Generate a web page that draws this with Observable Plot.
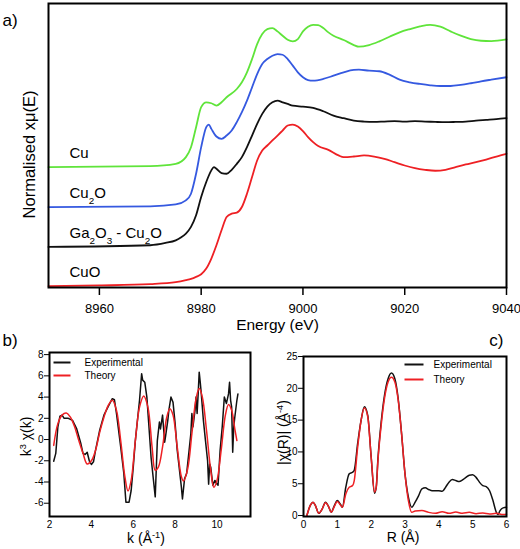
<!DOCTYPE html>
<html>
<head>
<meta charset="utf-8">
<script src="https://cdn.jsdelivr.net/npm/d3@7"></script>
<script src="https://cdn.jsdelivr.net/npm/@observablehq/plot@0.6"></script>
<style>
  html, body { margin: 0; padding: 0; background: #fff; }
  #root { position: relative; width: 520px; height: 549px; background: #fff; overflow: hidden; }
  #root svg { position: absolute; }
</style>
</head>
<body>
<div id="root"></div>
<script>
// ---------------- Panel a: XANES spectra (offset-stacked) ----------------
const cuE  = [8950,8970,8975,8977,8978,8979,8980,8981,8982,8983,8984,8985,8987,8988,8989,8990,8991,8992,8993,8994,8995,8996,8997,8998,8999,9000,9001,9002,9003,9004,9005,9006,9008,9010,9011,9013,9015,9017,9019,9021,9023,9025,9027,9029,9031,9033,9035,9037,9040];
const cuY  = [1.006,1.014,1.033,1.089,1.172,1.339,1.506,1.547,1.539,1.519,1.547,1.589,1.658,1.714,1.797,1.908,2.033,2.117,2.158,2.167,2.139,2.103,2.069,2.056,2.075,2.139,2.178,2.194,2.192,2.167,2.131,2.103,2.067,2.025,2.011,2.025,2.056,2.094,2.131,2.158,2.181,2.194,2.178,2.139,2.103,2.075,2.061,2.058,2.072];

const cu2oE = [8950,8970,8975,8977,8978,8979,8980,8981,8981.5,8982,8983,8984,8985,8986,8987,8988,8989,8990,8991,8992,8993,8994,8995,8996,8997,8998,8999,9000,9001,9002,9004,9006,9008,9010,9011,9013,9015,9017,9019,9021,9023,9025,9027,9029,9031,9033,9035,9037,9040];
const cu2oY = [0.672,0.678,0.694,0.728,0.783,0.950,1.172,1.339,1.361,1.325,1.261,1.242,1.269,1.311,1.381,1.464,1.561,1.672,1.783,1.867,1.908,1.936,1.950,1.944,1.908,1.853,1.797,1.756,1.733,1.728,1.742,1.769,1.797,1.817,1.819,1.811,1.806,1.778,1.736,1.714,1.700,1.689,1.683,1.683,1.692,1.706,1.722,1.736,1.756];

const gaE = [8950,8970,8973,8975,8976,8977,8978,8979,8980,8981,8982,8982.5,8983,8984,8985,8986,8987,8988,8989,8990,8991,8992,8993,8994,8995,8996,8997,8998,9000,9002,9004,9006,9008,9010,9012,9014,9016,9018,9020,9022,9024,9026,9028,9030,9032,9034,9036,9038,9040];
const gaY = [0.339,0.353,0.372,0.394,0.417,0.450,0.506,0.603,0.756,0.881,0.978,1.006,0.992,0.956,0.950,0.983,1.033,1.089,1.172,1.269,1.367,1.450,1.511,1.547,1.561,1.547,1.533,1.519,1.511,1.500,1.472,1.436,1.414,1.394,1.386,1.383,1.386,1.389,1.386,1.389,1.386,1.383,1.381,1.383,1.386,1.394,1.400,1.406,1.414];

const cuoE = [8950,8960,8970,8975,8977,8978,8979,8980,8981,8982,8983,8984,8985,8986,8987,8988,8989,8990,8991,8992,8993,8994,8995,8996,8997,8998,8999,9000,9001,9002,9003,9005,9007,9008,9010,9012,9014,9016,9018,9020,9022,9024,9026,9028,9030,9032,9034,9036,9038,9040];
const cuoY = [0.011,0.017,0.028,0.044,0.061,0.072,0.089,0.111,0.158,0.242,0.353,0.478,0.589,0.617,0.625,0.672,0.783,0.922,1.061,1.144,1.186,1.228,1.269,1.311,1.353,1.361,1.344,1.306,1.256,1.214,1.181,1.150,1.103,1.089,1.094,1.103,1.094,1.075,1.047,1.019,0.997,0.983,0.975,0.983,1.006,1.028,1.047,1.069,1.094,1.117];

const seriesNames = ["Cu", "Cu_{2}O", "Ga_{2}O_{3} - Cu_{2}O", "CuO"];
const energyTicks = [8960, 8980, 9000, 9020, 9040];

// ---------------- Panel b: k^3-weighted EXAFS ----------------
const kExp   = [2.2,2.3,2.4,2.5,2.6,2.7,2.9,3.1,3.3,3.5,3.6,3.7,3.8,3.9,4.0,4.1,4.2,4.4,4.6,4.8,5.0,5.1,5.2,5.4,5.55,5.65,5.8,5.9,6.0,6.1,6.2,6.3,6.4,6.45,6.55,6.65,6.75,6.85,6.95,7.05,7.15,7.25,7.3,7.4,7.5,7.55,7.65,7.7,7.8,7.9,8.0,8.1,8.2,8.3,8.35,8.45,8.55,8.65,8.75,8.8,8.85,8.95,9.0,9.05,9.1,9.15,9.2,9.25,9.35,9.45,9.55,9.6,9.65,9.7,9.8,9.9,10.0,10.05,10.15,10.25,10.35,10.45,10.55,10.6,10.65,10.7,10.75,10.8,10.85,10.95,11.0];
const chiExp = [-2.05,-1.3,1.2,2.2,2.3,2.0,2.0,1.8,1.0,-0.4,-1.3,-1.4,-1.2,-2.0,-2.35,-2.1,-1.0,0.9,2.3,3.1,3.85,3.75,2.45,-0.7,-3.2,-5.9,-5.9,-4.8,-2.6,-0.1,1.8,3.7,6.2,5.6,5.4,4.0,1.2,-1.65,-3.55,-5.4,-0.1,1.65,1.0,2.3,-0.25,0.4,1.8,2.75,4.0,3.5,1.5,-1.0,-2.75,-4.5,-5.6,-3.7,-3.2,-1.35,0.55,2.45,1.2,2.75,4.0,2.45,4.3,6.35,5.4,4.3,1.8,-0.1,-2.0,-4.2,-2.3,-2.6,-4.3,-3.85,-4.2,-4.3,-1.0,1.2,4.0,3.4,4.3,5.4,3.7,3.05,-1.2,1.2,2.1,3.7,4.3];
const kTh    = [2.2,2.4,2.6,2.8,3.0,3.2,3.4,3.6,3.8,4.0,4.2,4.4,4.6,4.8,5.0,5.2,5.4,5.6,5.75,5.9,6.1,6.3,6.5,6.7,6.9,7.05,7.2,7.4,7.6,7.75,7.9,8.1,8.3,8.4,8.6,8.8,9.0,9.15,9.3,9.5,9.7,9.85,10.0,10.2,10.4,10.55,10.7,10.85,10.95];
const chiTh  = [-0.55,1.5,2.3,2.5,2.1,1.2,-0.1,-1.3,-2.3,-2.0,-1.0,0.7,2.1,3.2,3.7,2.75,-0.1,-3.5,-4.85,-3.85,-0.1,3.05,4.1,3.05,-0.7,-2.9,-2.6,-0.7,2.1,2.9,2.3,-0.7,-3.5,-3.9,-2.75,0.55,3.85,4.8,4.0,0.85,-2.9,-4.5,-3.85,-1.0,2.3,3.3,2.75,1.0,-0.1];
const kTicks   = [2, 4, 6, 8, 10];
const chiTicks = [-6, -4, -2, 0, 2, 4, 6, 8];

// ---------------- Panel c: Fourier transform magnitude ----------------
const rExp  = [0.1,0.2,0.28,0.35,0.45,0.55,0.65,0.75,0.82,0.9,1.0,1.1,1.15,1.25,1.35,1.45,1.5,1.6,1.7,1.8,1.9,2.0,2.1,2.15,2.2,2.3,2.4,2.5,2.6,2.7,2.8,2.9,3.0,3.1,3.2,3.3,3.4,3.5,3.6,3.7,3.8,4.0,4.1,4.2,4.3,4.4,4.5,4.6,4.7,4.8,4.9,5.0,5.1,5.2,5.3,5.4,5.5,5.6,5.7,5.75,5.8,5.9,6.0];
const ftExp = [0,1.6,2.1,1.6,0.35,1.0,2.1,1.3,0.5,1.4,2.35,1.7,1.3,4.45,6.55,6.8,7.1,11.3,14.9,17.1,15.7,9.2,3.5,4.45,8.9,14.9,19.1,21.5,22.4,21.5,18.3,12.8,6.55,2.9,1.3,2.1,3.1,4.2,4.35,4.1,3.9,3.9,3.8,4.45,5.25,5.65,5.5,5.35,5.6,6.0,6.35,6.4,6.0,5.25,4.7,4.55,3.9,2.35,0.5,0.15,0.7,1.2,1.3];
const rTh   = [0.1,0.2,0.28,0.35,0.45,0.55,0.65,0.75,0.82,0.9,1.0,1.1,1.15,1.25,1.35,1.45,1.5,1.6,1.7,1.8,1.9,2.0,2.1,2.15,2.2,2.3,2.4,2.5,2.6,2.7,2.8,2.9,3.0,3.1,3.2,3.3,3.5,3.7,3.9,4.1,4.3,4.5,4.7,4.9,5.1,5.3,5.5,5.7,5.9,6.0];
const ftTh  = [0,1.6,2.1,1.6,0.35,1.0,2.0,1.3,0.5,1.3,2.2,1.6,1.3,3.4,4.45,4.7,5.5,10.7,14.9,16.9,15.5,9.2,3.7,4.45,8.6,14.4,18.6,21.0,21.75,21.0,18.1,12.8,6.55,2.35,0.5,0.7,0.8,0.5,0.35,0.6,0.35,0.55,0.35,0.5,0.3,0.4,0.25,0.35,0.15,0.2];
const rTicks  = [0, 1, 2, 3, 4, 5, 6];
const ftTicks = [0, 5, 10, 15, 20, 25];

const legendLabels = ["Experimental", "Theory"];

// ---------------- styles ----------------
const FONT = "'Liberation Sans', Arial, Helvetica, sans-serif";
const seriesColors = ["#5fe43a", "#3559e0", "#111111", "#ee2024"];
const legendColors = ["#111111", "#ee2024"];
const fmt = d => String(d);

const rows = (xs, ys, extra) => xs.map((x, i) => ({x, y: ys[i], ...extra}));
const spectra = [[cuE, cuY], [cu2oE, cu2oY], [gaE, gaY], [cuoE, cuoY]]
  .map(([xs, ys], i) => rows(xs, ys, {name: seriesNames[i], color: seriesColors[i]}));

// horizontal line symbol for legends
const dash = half => ({draw(ctx) { ctx.moveTo(-half, 0); ctx.lineTo(half, 0); }});

function richText(svg) {
  svg.querySelectorAll("text").forEach(t => {
    const s = t.textContent;
    if (!/[_^]\{/.test(s)) return;
    while (t.firstChild) t.removeChild(t.firstChild);
    const re = /([_^])\{([^}]*)\}|([^_^]+)/g;
    let m;
    while ((m = re.exec(s))) {
      const ts = document.createElementNS("http://www.w3.org/2000/svg", "tspan");
      if (m[3] !== undefined) {
        ts.textContent = m[3];
      } else {
        ts.textContent = m[2];
        ts.setAttribute("font-size", "66%");
        ts.setAttribute("baseline-shift", m[1] === "_" ? "sub" : "super");
      }
      t.appendChild(ts);
    }
  });
}

const root = document.getElementById("root");
function place(svg, left, top) {
  svg.style.left = left + "px";
  svg.style.top = top + "px";
  richText(svg);
  root.appendChild(svg);
}

const centered = {textAnchor: "middle", lineAnchor: "middle"};

// ---------------- Panel a ----------------
const plotA = Plot.plot({
  width: 520, height: 340,
  marginLeft: 48, marginRight: 14, marginTop: 3, marginBottom: 53,
  style: {fontFamily: FONT, color: "#000", background: "transparent", overflow: "visible"},
  x: {domain: [8950, 9040]},
  y: {domain: [0, 2.372], axis: null},
  marks: [
    ...spectra.map(s => Plot.line(s, {x: "x", y: "y", stroke: s[0].color, strokeWidth: 1.8, curve: "monotone-x"})),
    Plot.text(spectra.map(s => s[0]), {x: "x", y: "y", text: "name", dx: 21, dy: -14, textAnchor: "start", lineAnchor: "middle", fontSize: 15, fill: "#000"}),
    Plot.axisX({ticks: energyTicks, tickFormat: fmt, tickSize: 8, tickPadding: 8, fontSize: 13, strokeWidth: 1.5, label: null}),
    Plot.frame({stroke: "#000", strokeWidth: 2}),
    Plot.text(["Energy (eV)"], {frameAnchor: "bottom", dy: 38, fontSize: 15.5, ...centered}),
    Plot.text(["Normalised xμ(E)"], {frameAnchor: "left", rotate: -90, dx: -19, dy: 9, fontSize: 16.5, ...centered}),
    Plot.text(["a)"], {frameAnchor: "top-left", dx: -46, dy: 17, textAnchor: "start", lineAnchor: "middle", fontSize: 17})
  ]
});
place(plotA, 0, 0);

// ---------------- Panel b ----------------
const plotB = Plot.plot({
  width: 260, height: 219,
  marginLeft: 49, marginRight: 10, marginTop: 22, marginBottom: 33,
  style: {fontFamily: FONT, color: "#000", background: "transparent", overflow: "visible"},
  x: {domain: [2, 11.6]},
  y: {domain: [-7.25, 8.2]},
  marks: [
    Plot.line(rows(kExp, chiExp), {x: "x", y: "y", stroke: legendColors[0], strokeWidth: 1.5}),
    Plot.line(rows(kTh, chiTh), {x: "x", y: "y", stroke: legendColors[1], strokeWidth: 1.5, curve: "catmull-rom"}),
    Plot.axisY({ticks: chiTicks, tickFormat: fmt, tickSize: 5, tickPadding: 1, fontSize: 10, label: null}),
    Plot.axisX({ticks: kTicks, tickFormat: fmt, tickSize: 0, tickPadding: 4, fontSize: 10, label: null}),
    Plot.frame({stroke: "#000", strokeWidth: 2}),
    ...legendLabels.map((lab, i) => Plot.dot([lab], {frameAnchor: "top-left", dx: 12.5, dy: 10 + 13 * i, symbol: dash(8.5), fill: "none", stroke: legendColors[i], strokeWidth: 2})),
    ...legendLabels.map((lab, i) => Plot.text([lab], {frameAnchor: "top-left", dx: 35, dy: 10 + 13 * i, textAnchor: "start", lineAnchor: "middle", fontSize: 10})),
    Plot.text(["k (Å^{-1})"], {frameAnchor: "bottom", dx: -4, dy: 22, fontSize: 14, ...centered}),
    Plot.text(["k^{3} χ(k)"], {frameAnchor: "left", rotate: -90, dx: -23, dy: 2, fontSize: 14, ...centered}),
    Plot.text(["b)"], {frameAnchor: "top-left", dx: -47, dy: -12, textAnchor: "start", lineAnchor: "middle", fontSize: 17})
  ]
});
place(plotB, 0, 330);

// ---------------- Panel c ----------------
const plotC = Plot.plot({
  width: 260, height: 219,
  marginLeft: 43, marginRight: 14, marginTop: 26, marginBottom: 33,
  style: {fontFamily: FONT, color: "#000", background: "transparent", overflow: "visible"},
  x: {domain: [0, 6]},
  y: {domain: [-0.15, 25]},
  marks: [
    Plot.line(rows(rExp, ftExp), {x: "x", y: "y", stroke: legendColors[0], strokeWidth: 1.5, curve: "monotone-x"}),
    Plot.line(rows(rTh, ftTh), {x: "x", y: "y", stroke: legendColors[1], strokeWidth: 1.5, curve: "monotone-x"}),
    Plot.axisY({ticks: ftTicks, tickFormat: fmt, tickSize: 5, tickPadding: 1, fontSize: 10, label: null}),
    Plot.axisX({ticks: rTicks, tickFormat: fmt, tickSize: 0, tickPadding: 4, fontSize: 10, label: null}),
    Plot.frame({stroke: "#000", strokeWidth: 2}),
    ...legendLabels.map((lab, i) => Plot.dot([lab], {frameAnchor: "top-left", dx: 110.5, dy: 8 + 15 * i, symbol: dash(9.5), fill: "none", stroke: legendColors[i], strokeWidth: 2})),
    ...legendLabels.map((lab, i) => Plot.text([lab], {frameAnchor: "top-left", dx: 130, dy: 8 + 15 * i, textAnchor: "start", lineAnchor: "middle", fontSize: 10})),
    Plot.text(["R (Å)"], {frameAnchor: "bottom", dx: -2, dy: 21, fontSize: 14, ...centered}),
    Plot.text(["|χ(R)| (Å^{-4})"], {frameAnchor: "left", rotate: -90, dx: -20, dy: -4, fontSize: 14, ...centered}),
    Plot.text(["c)"], {frameAnchor: "top-right", dx: -3, dy: -15.5, textAnchor: "end", lineAnchor: "middle", fontSize: 17})
  ]
});
place(plotC, 260, 330);
</script>
</body>
</html>
